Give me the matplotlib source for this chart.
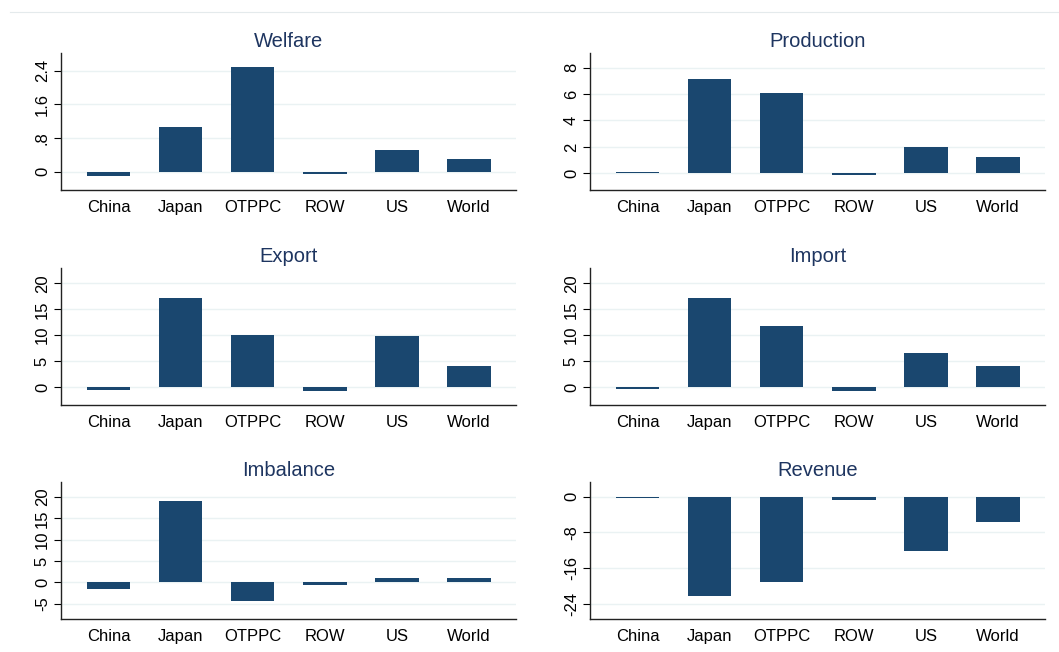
import numpy as np
import matplotlib
matplotlib.use("Agg")
import matplotlib.pyplot as plt

plt.rcParams['font.family'] = ['Liberation Sans', 'DejaVu Sans']

regions = ['China', 'Japan', 'OTPPC', 'ROW', 'US', 'World']

welfare = [-0.10, 1.06, 2.48, -0.06, 0.52, 0.29]
production = [0.08, 7.14, 6.04, -0.13, 1.99, 1.21]
export = [-0.50, 17.2, 10.1, -0.77, 9.87, 4.13]
imports = [-0.45, 17.1, 11.8, -0.77, 6.65, 4.13]
imbalance = [-1.57, 19.1, -4.3, -0.70, 0.94, 0.94]
revenue = [-0.37, -22.2, -19.1, -0.75, -12.2, -5.7]

welfare_ticks = [0, 0.8, 1.6, 2.4]
welfare_labels = ['0', '.8', '1.6', '2.4']
production_ticks = [0, 2, 4, 6, 8]
trade_ticks = [0, 5, 10, 15, 20]
imbalance_ticks = [-5, 0, 5, 10, 15, 20]
revenue_ticks = [0, -8, -16, -24]

bar_color = '#1a476f'
title_color = '#1e3560'
grid_color = '#eaf2f3'

W, H = 1059, 652
fig = plt.figure(figsize=(W / 100, H / 100), dpi=100)

# thin border line along the top of the graph region
fig.add_artist(plt.Line2D([10 / W, 1], [1 - 12 / H, 1 - 12 / H], color='#e4eaec', lw=0.8))

panels = [
    ('Welfare', welfare, welfare_ticks, welfare_labels, (-0.44, 2.82), 61, 53),
    ('Production', production, production_ticks, None, (-1.26, 9.1), 590, 53),
    ('Export', export, trade_ticks, None, (-3.48, 22.97), 61, 268),
    ('Import', imports, trade_ticks, None, (-3.48, 22.97), 590, 268),
    ('Imbalance', imbalance, imbalance_ticks, None, (-8.6, 23.5), 61, 482),
    ('Revenue', revenue, revenue_ticks, None, (-27.4, 3.3), 590, 482),
]

x = np.arange(len(regions))
for title, vals, ticks, labels, ylim, left, top in panels:
    ax = fig.add_axes([left / W, 1 - (top + 137) / H, 455 / W, 137 / H])
    ax.bar(x, vals, width=0.6, color=bar_color, zorder=3)
    ax.set_xlim(-0.66, 5.65)
    ax.set_ylim(*ylim)
    ax.set_yticks(ticks)
    ax.set_yticklabels(labels if labels else [str(t) for t in ticks],
                       rotation=90, va='center', fontsize=12)
    ax.set_xticks(x)
    ax.set_xticklabels(regions, fontsize=12)
    ax.tick_params(axis='x', length=0, pad=7)
    ax.tick_params(axis='y', length=5, width=0.8, pad=3)
    ax.grid(axis='y', color=grid_color, lw=1, zorder=0)
    for s in ['top', 'right']:
        ax.spines[s].set_visible(False)
    for s in ['left', 'bottom']:
        ax.spines[s].set_linewidth(1.0)
        ax.spines[s].set_color('#222222')
    ax.set_title(title, color=title_color, fontsize=14.5, pad=4)

fig.savefig('out.png', dpi=100, facecolor='white')
